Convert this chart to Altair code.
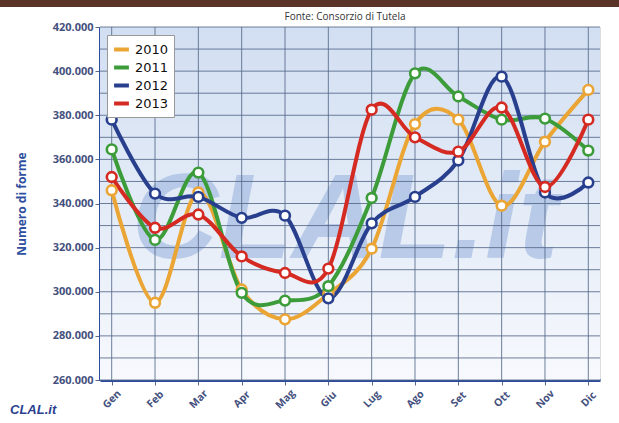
import altair as alt
import pandas as pd

# Monthly production (number of wheels) by year
months = ["Gen", "Feb", "Mar", "Apr", "Mag", "Giu", "Lug", "Ago", "Set", "Ott", "Nov", "Dic"]
years = ["2010", "2011", "2012", "2013"]
v2010 = [346000, 295000, 345000, 301000, 287500, 299000, 319500, 376000, 378000, 339000, 368000, 391500]
v2011 = [364500, 323500, 354000, 299500, 296000, 302500, 342500, 399000, 388500, 378000, 378500, 364000]
v2012 = [378000, 344500, 343000, 333500, 334500, 297000, 331000, 343000, 359500, 397500, 345000, 349500]
v2013 = [352000, 329000, 335000, 316000, 308500, 310500, 382500, 370000, 363500, 383500, 347500, 378000]
colors = ["#eaa535", "#3c9c3a", "#283f8e", "#d42a22"]

y_ticks = [260000, 280000, 300000, 320000, 340000, 360000, 380000, 400000, 420000]
y_grid = [260000, 270000, 280000, 290000, 300000, 310000, 320000, 330000, 340000,
          350000, 360000, 370000, 380000, 390000, 400000, 410000, 420000]

W, H = 500, 353

rows = []
for yr, vals in zip(years, [v2010, v2011, v2012, v2013]):
    for m, v in zip(months, vals):
        rows.append({"Mese": m, "Valore": v, "Anno": yr})
df = pd.DataFrame(rows)
df_months = pd.DataFrame({"Mese": months})
df_grid = pd.DataFrame({"Valore": y_grid})
one = pd.DataFrame({"k": [0]})

label_font = "Open Sans"
axis_col = "#44507e"

x_enc = alt.X(
    "Mese:N", sort=months,
    scale=alt.Scale(type="point", padding=0.27),
    axis=alt.Axis(title=None, labelAngle=-45, labelAlign="center", labelBaseline="middle",
                  labelPadding=14, tickSize=5, tickColor="#5a6a8a", domainColor="#2b4c9c",
                  domainWidth=3, labelFont=label_font, labelFontWeight="bold",
                  labelFontSize=10.5, labelColor=axis_col, grid=False),
)
y_enc = alt.Y(
    "Valore:Q",
    scale=alt.Scale(domain=[260000, 420000], nice=False, zero=False),
    axis=alt.Axis(title="Numero di forme", values=y_ticks,
                  labelExpr="replace(format(datum.value, ',d'), ',', '.')",
                  tickSize=5, tickColor="#5a6a8a", domainColor="#2b4c9c", domainWidth=3,
                  labelFont=label_font, labelFontWeight="bold", labelFontSize=11,
                  labelColor=axis_col, labelPadding=2, titleFont=label_font,
                  titleFontWeight="bold", titleFontSize=12, titleColor="#2f4f9f",
                  titlePadding=24, grid=False),
)

# Plot background gradient
bg = alt.Chart(one).mark_rect(
    color=alt.Gradient(gradient="linear", x1=0, y1=0, x2=0, y2=1,
                       stops=[alt.GradientStop(color="#d2dff2", offset=0),
                              alt.GradientStop(color="#e3ebf7", offset=0.5),
                              alt.GradientStop(color="#f7f9fd", offset=1)])
).encode(x=alt.value(0), x2=alt.value(W), y=alt.value(0), y2=alt.value(H))

# Watermark
watermark = alt.Chart(one).mark_text(
    text="CLAL.it", font="Liberation Sans", fontStyle="italic", fontWeight="bold",
    fontSize=120, color="#a9bfe3", opacity=0.75, align="center", baseline="alphabetic"
).encode(x=alt.value(245), y=alt.value(231))

vgrid = alt.Chart(df_months).mark_rule(color="#55698a", strokeWidth=1, opacity=0.85).encode(
    x=x_enc, y=alt.value(0), y2=alt.value(H))
hgrid = alt.Chart(df_grid).mark_rule(color="#55698a", strokeWidth=1, opacity=0.85).encode(
    y=y_enc, x=alt.value(0), x2=alt.value(W))

color_enc = alt.Color(
    "Anno:N", sort=years, scale=alt.Scale(domain=years, range=colors),
    legend=alt.Legend(title=None, orient="none", legendX=7, legendY=8, fillColor="white",
                      strokeColor="#999999", padding=5, symbolType="stroke",
                      symbolStrokeWidth=4, symbolSize=220, labelFontSize=13,
                      labelFont="DejaVu Sans", labelColor="#111111", rowPadding=0,
                      cornerRadius=0),
)

lines = alt.Chart(df).mark_line(interpolate="cardinal", strokeWidth=4).encode(
    x=x_enc, y=y_enc, color=color_enc, order=alt.Order("Anno:N"))
points = alt.Chart(df).mark_point(filled=False, fill="white", size=95, strokeWidth=2.6,
                                  opacity=1).encode(
    x=x_enc, y=y_enc, color=alt.Color("Anno:N", sort=years, legend=None))

# Top band, source note and corner logo
band = alt.Chart(one).mark_rect(color="#5a3426").encode(
    x=alt.value(-100), x2=alt.value(519), y=alt.value(-27), y2=alt.value(-20))
source = alt.Chart(one).mark_text(
    text="Fonte: Consorzio di Tutela", font=label_font, fontSize=10, color="#333333",
    align="center", baseline="middle"
).encode(x=alt.value(245), y=alt.value(-10))
logo = alt.Chart(one).mark_text(
    text="CLAL.it", font="Liberation Sans", fontStyle="italic", fontWeight="bold",
    fontSize=13, color="#2a3f8f", align="left", baseline="middle"
).encode(x=alt.value(-90), y=alt.value(383))

chart = alt.layer(bg, watermark, vgrid, hgrid, lines, points, band, source, logo).properties(
    width=W, height=H,
    autosize=alt.AutoSizeParams(type="none"),
    padding={"left": 100, "top": 27, "right": 19, "bottom": 43},
).configure_view(stroke="#34508f", strokeWidth=2).configure(background="white")

chart.save("out.html", embed_options={"renderer": "svg", "actions": False})
